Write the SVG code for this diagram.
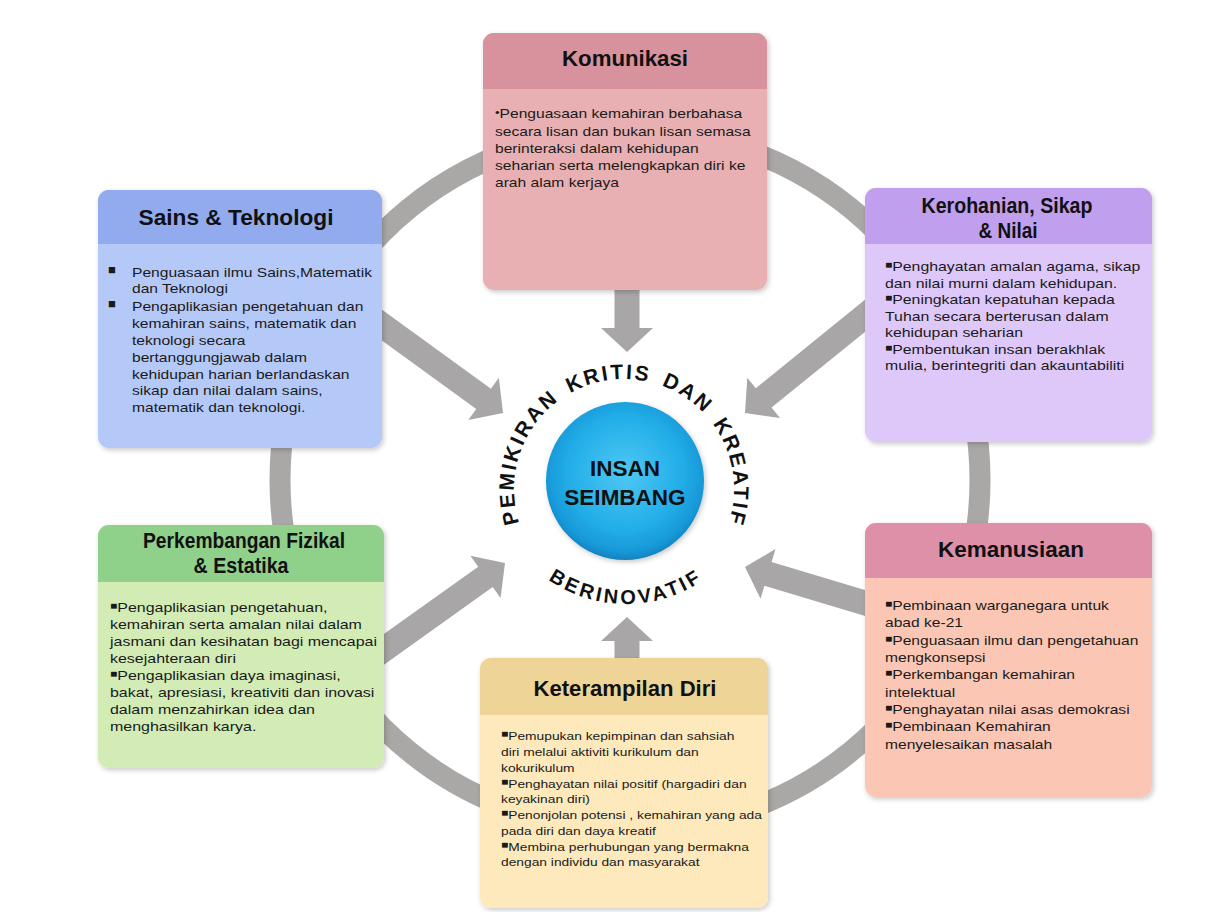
<svg xmlns="http://www.w3.org/2000/svg" xmlns:xlink="http://www.w3.org/1999/xlink" width="1216" height="912" viewBox="0 0 1216 912">
<style>
.title{font-family:"Liberation Sans",Arial,sans-serif;font-weight:bold;font-size:22px;fill:#111;text-anchor:middle}
.body{font-family:"Liberation Sans",Arial,sans-serif;fill:#1a1a1a}
.b{font-size:10px;baseline-shift:3px}
.arc{font-family:"Liberation Sans",Arial,sans-serif;font-weight:bold;fill:#111}
.top{font-size:21px;letter-spacing:2.3px}
.ctr{font-family:"Liberation Sans",Arial,sans-serif;font-weight:bold;font-size:22.5px;fill:#111;text-anchor:middle}
.arrow{fill:#a8a6a6}
</style>
<defs>
<filter id="sh" x="-10%" y="-10%" width="120%" height="120%">
<feDropShadow dx="1.5" dy="2" stdDeviation="2.5" flood-color="#000" flood-opacity="0.22"/>
</filter>
<radialGradient id="ball" cx="50%" cy="45%" r="55%">
<stop offset="0" stop-color="#4fc8f3"/>
<stop offset="0.65" stop-color="#22aee8"/>
<stop offset="0.9" stop-color="#1899d8"/>
<stop offset="1" stop-color="#1282c0"/>
</radialGradient>
<path id="arr" d="M-170,-12.5 L-24,-12.5 L-24,-26 L0,0 L-24,26 L-24,12.5 L-170,12.5 Z"/>
<path id="pTop" d="M528.7,544 A110,110 0 1 1 719.3,544"/>
<path id="pBot" d="M508.2,536 A136,136 0 0 0 743.8,536"/>
</defs>
<rect width="1216" height="912" fill="#fff"/>

<g id="connectors">
<circle cx="630" cy="480" r="350" fill="none" stroke="#aaa7a7" stroke-width="21"/>
<use xlink:href="#arr" class="arrow" transform="translate(627,352) rotate(90)"/>
<use xlink:href="#arr" class="arrow" transform="translate(627,617) rotate(-90)"/>
<use xlink:href="#arr" class="arrow" transform="translate(503,413) rotate(36)"/>
<use xlink:href="#arr" class="arrow" transform="translate(745,413) rotate(141)"/>
<use xlink:href="#arr" class="arrow" transform="translate(505,563) rotate(-35.5)"/>
<use xlink:href="#arr" class="arrow" transform="translate(745,567) rotate(196.7)"/>
</g>

<g id="komunikasi">
<g filter="url(#sh)">
<rect x="483" y="33" width="284" height="257" rx="11" fill="#e8b0b2"/>
<path d="M483,89 V44 A11,11 0 0 1 494,33 H756 A11,11 0 0 1 767,44 V89 Z" fill="#d7929e"/>
</g>
<text class="title" x="625" y="66" textLength="126" lengthAdjust="spacingAndGlyphs">Komunikasi</text>
<text class="body" font-size="13" transform="translate(495,0) scale(1.2,1)">
<tspan x="0" y="118"><tspan font-size="11" baseline-shift="2px">•</tspan>Penguasaan kemahiran berbahasa</tspan>
<tspan x="0" y="136">secara lisan dan bukan lisan  semasa</tspan>
<tspan x="0" y="153">berinteraksi dalam kehidupan</tspan>
<tspan x="0" y="170">seharian serta melengkapkan diri ke</tspan>
<tspan x="0" y="187">arah alam kerjaya</tspan>
</text>
</g>

<g id="sains">
<g filter="url(#sh)">
<rect x="98" y="190" width="284" height="258" rx="11" fill="#b5c9f8"/>
<path d="M98,244 V201 A11,11 0 0 1 109,190 H371 A11,11 0 0 1 382,201 V244 Z" fill="#92abef"/>
</g>
<text class="title" x="236" y="225" font-size="23" textLength="195" lengthAdjust="spacingAndGlyphs">Sains &amp; Teknologi</text>
<text class="body" font-size="13" x="108" y="274">■</text>
<text class="body" font-size="13" x="108" y="308">■</text>
<text class="body" font-size="13" transform="translate(132,0) scale(1.2,1)">
<tspan x="0" y="277">Penguasaan ilmu Sains,Matematik</tspan>
<tspan x="0" y="293">dan Teknologi</tspan>
<tspan x="0" y="311">Pengaplikasian pengetahuan dan</tspan>
<tspan x="0" y="328">kemahiran sains, matematik dan</tspan>
<tspan x="0" y="345">teknologi secara</tspan>
<tspan x="0" y="362">bertanggungjawab dalam</tspan>
<tspan x="0" y="379">kehidupan harian berlandaskan</tspan>
<tspan x="0" y="395">sikap dan nilai dalam sains,</tspan>
<tspan x="0" y="412">matematik dan teknologi.</tspan>
</text>
</g>

<g id="kerohanian">
<g filter="url(#sh)">
<rect x="865" y="188" width="287" height="254" rx="11" fill="#dec8fa"/>
<path d="M865,244 V199 A11,11 0 0 1 876,188 H1141 A11,11 0 0 1 1152,199 V244 Z" fill="#bf9fee"/>
</g>
<text class="title" x="1007" y="213" textLength="171" lengthAdjust="spacingAndGlyphs">Kerohanian, Sikap</text>
<text class="title" x="1008" y="238" textLength="59" lengthAdjust="spacingAndGlyphs">&amp; Nilai</text>
<text class="body" font-size="13.2" transform="translate(885,0) scale(1.2,1)">
<tspan x="0" y="271"><tspan class="b">■</tspan>Penghayatan amalan agama, sikap</tspan>
<tspan x="0" y="288">dan nilai  murni dalam kehidupan.</tspan>
<tspan x="0" y="304"><tspan class="b">■</tspan>Peningkatan kepatuhan kepada</tspan>
<tspan x="0" y="321">Tuhan secara berterusan dalam</tspan>
<tspan x="0" y="337">kehidupan seharian</tspan>
<tspan x="0" y="354"><tspan class="b">■</tspan>Pembentukan insan berakhlak</tspan>
<tspan x="0" y="370">mulia, berintegriti dan akauntabiliti</tspan>
</text>
</g>

<g id="fizikal">
<g filter="url(#sh)">
<rect x="98" y="525" width="286" height="243" rx="11" fill="#d3ecb6"/>
<path d="M98,582 V536 A11,11 0 0 1 109,525 H373 A11,11 0 0 1 384,536 V582 Z" fill="#8fd08b"/>
</g>
<text class="title" x="244" y="548" textLength="202" lengthAdjust="spacingAndGlyphs">Perkembangan Fizikal</text>
<text class="title" x="241" y="573" textLength="95" lengthAdjust="spacingAndGlyphs">&amp; Estatika</text>
<text class="body" font-size="13.3" transform="translate(110,0) scale(1.2,1)">
<tspan x="0" y="612"><tspan class="b">■</tspan>Pengaplikasian pengetahuan,</tspan>
<tspan x="0" y="629">kemahiran serta amalan nilai dalam</tspan>
<tspan x="0" y="646">jasmani dan kesihatan bagi mencapai</tspan>
<tspan x="0" y="663">kesejahteraan diri</tspan>
<tspan x="0" y="680"><tspan class="b">■</tspan>Pengaplikasian daya imaginasi,</tspan>
<tspan x="0" y="697">bakat, apresiasi, kreativiti dan inovasi</tspan>
<tspan x="0" y="714">dalam menzahirkan idea dan</tspan>
<tspan x="0" y="731">menghasilkan karya.</tspan>
</text>
</g>

<g id="kemanusiaan">
<g filter="url(#sh)">
<rect x="865" y="523" width="287" height="274" rx="11" fill="#fbc7b4"/>
<path d="M865,578 V534 A11,11 0 0 1 876,523 H1141 A11,11 0 0 1 1152,534 V578 Z" fill="#dd90a7"/>
</g>
<text class="title" x="1011" y="557" textLength="146" lengthAdjust="spacingAndGlyphs">Kemanusiaan</text>
<text class="body" font-size="13" transform="translate(885,0) scale(1.2,1)">
<tspan x="0" y="610"><tspan class="b">■</tspan>Pembinaan warganegara untuk</tspan>
<tspan x="0" y="627">abad ke-21</tspan>
<tspan x="0" y="645"><tspan class="b">■</tspan>Penguasaan ilmu dan pengetahuan</tspan>
<tspan x="0" y="662">mengkonsepsi</tspan>
<tspan x="0" y="679"><tspan class="b">■</tspan>Perkembangan kemahiran</tspan>
<tspan x="0" y="697">intelektual</tspan>
<tspan x="0" y="714"><tspan class="b">■</tspan>Penghayatan nilai asas demokrasi</tspan>
<tspan x="0" y="731"><tspan class="b">■</tspan>Pembinaan Kemahiran</tspan>
<tspan x="0" y="749">menyelesaikan masalah</tspan>
</text>
</g>

<g id="keterampilan">
<g filter="url(#sh)">
<rect x="480" y="658" width="288" height="250" rx="11" fill="#fde9bc"/>
<path d="M480,715 V669 A11,11 0 0 1 491,658 H757 A11,11 0 0 1 768,669 V715 Z" fill="#eed496"/>
</g>
<text class="title" x="625" y="696" textLength="183" lengthAdjust="spacingAndGlyphs">Keterampilan Diri</text>
<text class="body" font-size="11.5" transform="translate(501,0) scale(1.2,1)">
<tspan x="0" y="740"><tspan class="b">■</tspan>Pemupukan kepimpinan dan   sahsiah</tspan>
<tspan x="0" y="756">diri melalui aktiviti  kurikulum dan</tspan>
<tspan x="0" y="772">kokurikulum</tspan>
<tspan x="0" y="788"><tspan class="b">■</tspan>Penghayatan nilai positif (hargadiri dan</tspan>
<tspan x="0" y="803">keyakinan diri)</tspan>
<tspan x="0" y="819"><tspan class="b">■</tspan>Penonjolan potensi , kemahiran yang ada</tspan>
<tspan x="0" y="835">pada diri dan daya kreatif</tspan>
<tspan x="0" y="851"><tspan class="b">■</tspan>Membina perhubungan yang bermakna</tspan>
<tspan x="0" y="866">dengan individu dan masyarakat</tspan>
</text>
</g>

<g id="insan-seimbang">
<circle cx="625" cy="481" r="79" fill="url(#ball)" filter="url(#sh)"/>
<text class="ctr" x="625" y="476">INSAN</text>
<text class="ctr" x="625" y="505">SEIMBANG</text>
</g>

<g id="arc-labels">
<text class="arc top"><textPath xlink:href="#pTop" startOffset="23">PEMIKIRAN</textPath></text>
<text class="arc top"><textPath xlink:href="#pTop" startOffset="173.7">KRITIS</textPath></text>
<text class="arc top"><textPath xlink:href="#pTop" startOffset="268.4">DAN</textPath></text>
<text class="arc top"><textPath xlink:href="#pTop" startOffset="332.9">KREATIF</textPath></text>
<text class="arc" font-size="20" letter-spacing="3" text-anchor="middle"><textPath xlink:href="#pBot" startOffset="50%">BERINOVATIF</textPath></text>
</g>
</svg>
